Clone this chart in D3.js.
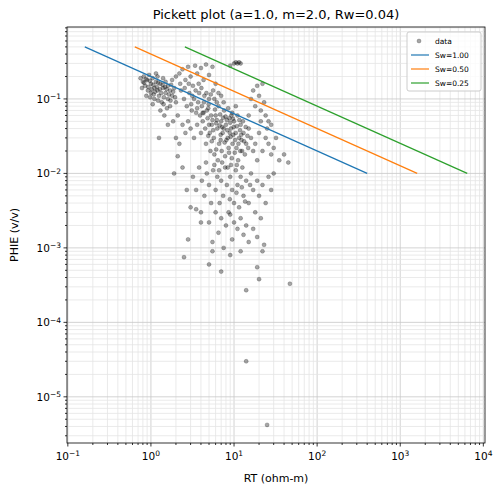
<!DOCTYPE html>
<html><head><meta charset="utf-8">
<script src="https://cdn.jsdelivr.net/npm/d3@7"></script>
<style>body{margin:0;background:#fff}text{font-family:"DejaVu Sans",sans-serif}</style>
</head><body>
<script>
var margin = {top: 27, right: 17, bottom: 52, left: 67};
var width = 502 - margin.left - margin.right;
var height = 495 - margin.top - margin.bottom;

var points = [
[0.75,0.19],[0.8,0.17],[0.82,0.2],[0.85,0.15],[0.9,0.18],[0.92,0.13],[0.95,0.21],[1.0,0.16],[1.0,0.12],[1.05,0.19],[1.1,0.14],[1.1,0.1],[1.15,0.17],[1.2,0.2],[1.2,0.13],[1.25,0.11],[1.3,0.16],[1.35,0.09],[1.4,0.14],[1.4,0.19],[1.5,0.12],[1.5,0.17],[1.6,0.1],[1.6,0.15],[1.7,0.08],[1.7,0.13],[1.8,0.18],[1.8,0.11],[1.9,0.14],[2.0,0.09],[2.0,0.2],[0.88,0.11],[1.05,0.085],[1.3,0.07],[0.78,0.14],[1.15,0.22],[1.45,0.06],[1.6,0.045],[1.25,0.03],[1.85,0.05],
[0.83,0.165],[0.87,0.185],[0.93,0.145],[0.97,0.175],[1.02,0.135],[1.07,0.155],[1.12,0.125],[1.18,0.145],[1.22,0.165],[1.28,0.135],[1.33,0.12],[1.38,0.155],[1.43,0.105],[1.48,0.145],[1.55,0.135],[1.65,0.115],[1.75,0.155],[1.85,0.125],[1.95,0.105],[0.98,0.105],[1.08,0.115],[1.22,0.095],[1.42,0.085],[1.56,0.075],[1.72,0.095],
[2.2,0.22],[2.4,0.25],[2.6,0.18],[2.8,0.27],[3.0,0.2],[3.2,0.15],[3.4,0.28],[3.6,0.22],[3.8,0.12],[4.0,0.26],[4.3,0.18],[4.6,0.29],[5.0,0.21],[5.5,0.27],[6.0,0.16],[2.3,0.13],[2.5,0.1],[2.7,0.08],[2.9,0.12],[3.1,0.07],[3.3,0.1],[3.5,0.065],[3.7,0.09],[3.9,0.06],[4.1,0.08],[4.4,0.11],[4.7,0.07],[5.0,0.1],[5.3,0.06],[5.6,0.13],[6.2,0.09],[2.1,0.06],[2.4,0.045],[2.6,0.035],[2.2,0.025],[2.8,0.05],[3.0,0.04],[3.3,0.03],[2.1,0.017],[2.4,0.012],
[2.25,0.16],[2.55,0.14],[2.85,0.16],[3.15,0.11],[3.45,0.13],[3.75,0.16],[4.05,0.14],[4.35,0.09],[4.65,0.12],[4.95,0.085],[5.25,0.115],[5.8,0.1],[6.5,0.12],[7.0,0.11],[3.05,0.085],[3.6,0.075],[4.2,0.065],
[4.2,0.05],[4.5,0.04],[4.8,0.055],[5.1,0.035],[5.4,0.045],[5.7,0.03],[6.0,0.06],[6.3,0.04],[6.6,0.025],[7.0,0.05],[7.3,0.035],[7.6,0.07],[8.0,0.045],[8.4,0.03],[8.8,0.055],[9.2,0.04],[9.6,0.025],[10,0.05],[10.5,0.035],[11,0.06],[11.5,0.03],[12,0.045],[12.5,0.02],[13,0.035],[14,0.025],[15,0.04],[6.5,0.08],[7.5,0.09],[8.5,0.075],[9.5,0.065],[10.5,0.08],[4.6,0.025],[5.2,0.02],[5.8,0.018],[6.4,0.015],[7.1,0.02],[7.8,0.017],[8.6,0.022],[9.4,0.016],[10.2,0.019],[11.2,0.015],[12.3,0.028],[13.5,0.018],[14.8,0.022],[16,0.03],[17,0.02],[18,0.025],[19,0.015],[20,0.035],[22,0.02],[24,0.03],[26,0.025],[28,0.018],[30,0.022],[35,0.015],[40,0.018],[45,0.014],[32,0.03],[25,0.04],[21,0.05],
[4.3,0.065],[4.9,0.075],[5.5,0.052],[6.1,0.047],[6.8,0.062],[7.2,0.042],[7.9,0.058],[8.3,0.038],[9.0,0.048],[9.8,0.033],[10.8,0.043],[11.8,0.038],[12.8,0.05],[3.6,0.045],[4.0,0.035],[5.9,0.072],[6.9,0.033],[8.1,0.028],[9.3,0.06],[11.3,0.025],
[5.0,0.045],[5.6,0.038],[6.2,0.052],[6.7,0.044],[7.4,0.056],[8.2,0.052],[8.9,0.035],[9.9,0.042],[10.3,0.028],[11.6,0.052],[12.2,0.033],[13.2,0.027],[13.8,0.042],[14.5,0.032],[7.7,0.026],[8.7,0.019],[9.1,0.031],[10.7,0.022],[11.9,0.02],[6.9,0.028],[5.4,0.027],[4.9,0.032],[6.1,0.021],[7.5,0.04],[9.7,0.054],
[16,0.1],[17,0.13],[18,0.08],[19,0.15],[20,0.11],[21,0.07],[22,0.16],[23,0.09],[24,0.06],[15,0.06],[26,0.05],[28,0.045],
[10,0.3],[10.5,0.31],[11,0.3],[11.5,0.31],[12,0.3],[9,0.28],
[3.2,0.009],[3.5,0.006],[3.8,0.012],[4.1,0.008],[4.4,0.005],[4.7,0.01],[5,0.007],[5.3,0.004],[5.6,0.011],[6,0.006],[6.3,0.009],[6.7,0.004],[7,0.008],[7.4,0.005],[7.8,0.012],[8.2,0.007],[8.6,0.003],[9,0.009],[9.5,0.006],[10,0.004],[10.5,0.011],[11,0.007],[11.5,0.0035],[12,0.009],[13,0.005],[14,0.008],[15,0.004],[16,0.01],[17,0.006],[18,0.003],[19,0.008],[20,0.005],[22,0.007],[24,0.004],[26,0.009],[28,0.006],[30,0.01],[6,0.003],[7,0.0025],[8,0.002],[9,0.0028],[10,0.0022],[11,0.0018],[12,0.0025],[13,0.0015],[14,0.002],[15,0.0012],[17,0.0018],[19,0.0014],[21,0.0025],[23,0.0011],[4,0.003],[3.5,0.0033],[5,0.0022],[2.8,0.0013],[5.5,0.0012],[6.5,0.0016],[7.5,0.001],[9.5,0.0013],
[5.8,0.013],[6.6,0.011],[7.2,0.014],[8.4,0.012],[9.2,0.013],[10.8,0.013],[12.6,0.012],[4.6,0.014],[8.9,0.0045],[10.7,0.0055],[12.4,0.0065],[13.6,0.0042],[15.6,0.007],
[4,0.0022],[2.5,0.00075],[5,0.0006],[5.5,0.0009],[7,0.00048],[9,0.0008],[12,0.0009],[14,0.00027],[19,0.00055],[20,0.00038],[22,0.0009],[47,0.00033],[14,0.00003],[25,0.0000042],[1.9,0.01],[2.0,0.03],[3.0,0.0035],[2.7,0.006]
];

var swLabels = ['Sw=1.00', 'Sw=0.50', 'Sw=0.25'];
var swColors = ['#1f77b4', '#ff7f0e', '#2ca02c'];
var swRT = [[0.16, 400], [0.64, 1600], [2.56, 6400]];
var swPhi = [0.5, 0.01];

var x = d3.scaleLog().domain([Math.pow(10, -1.01), Math.pow(10, 4.02)]).range([0, width]);
var y = d3.scaleLog().domain([Math.pow(10, -5.62), Math.pow(10, -0.034)]).range([height, 0]);

var svg = d3.select('body').append('svg')
	.attr('width', 502).attr('height', 495)
	.append('g')
		.attr('transform', 'translate(' + margin.left + ',' + margin.top + ')');

function isMajor(v) { return Math.abs(Math.log10(v) - Math.round(Math.log10(v))) < 1e-9; }

var xt = x.ticks().filter(function(v) { return v >= x.domain()[0] && v <= x.domain()[1]; });
var yt = y.ticks().filter(function(v) { return v >= y.domain()[0] && v <= y.domain()[1]; });

// grid
svg.selectAll('.gx').data(xt).enter().append('line')
	.attr('x1', function(d) { return x(d); }).attr('x2', function(d) { return x(d); })
	.attr('y1', 0).attr('y2', height)
	.attr('stroke', function(d) { return isMajor(d) ? '#c8c8c8' : '#e4e4e4'; }).attr('stroke-width', 0.8);
svg.selectAll('.gy').data(yt).enter().append('line')
	.attr('y1', function(d) { return y(d); }).attr('y2', function(d) { return y(d); })
	.attr('x1', 0).attr('x2', width)
	.attr('stroke', function(d) { return isMajor(d) ? '#c8c8c8' : '#e4e4e4'; }).attr('stroke-width', 0.8);

// data
svg.selectAll('.pt').data(points).enter().append('circle')
	.attr('cx', function(d) { return x(d[0]); })
	.attr('cy', function(d) { return y(d[1]); })
	.attr('r', 2)
	.attr('fill', 'black').attr('fill-opacity', 0.35)
	.attr('stroke', 'black').attr('stroke-opacity', 0.35).attr('stroke-width', 0.6);

var line = d3.line()
	.x(function(d) { return x(d[0]); })
	.y(function(d) { return y(d[1]); });
swRT.forEach(function(r, i) {
	svg.append('path')
		.datum([[r[0], swPhi[0]], [r[1], swPhi[1]]])
		.attr('fill', 'none').attr('stroke', swColors[i]).attr('stroke-width', 1.2)
		.attr('d', line);
});

// axes
function sup(sel, d) {
	var e = Math.round(Math.log10(d));
	sel.text('10');
	sel.append('tspan').attr('dy', '-0.5em').attr('font-size', '7.5px').text(e < 0 ? '\u2212' + (-e) : e);
}
var gx = svg.append('g').attr('transform', 'translate(0,' + height + ')');
xt.forEach(function(d) {
	var m = isMajor(d);
	gx.append('line').attr('x1', x(d)).attr('x2', x(d)).attr('y1', 0).attr('y2', m ? 3.5 : 2).attr('stroke', '#000').attr('stroke-width', 0.8);
	if (m) sup(gx.append('text').attr('x', x(d)).attr('y', 17).attr('text-anchor', 'middle').attr('font-size', '10.5px'), d);
});
var gy = svg.append('g');
yt.forEach(function(d) {
	var m = isMajor(d);
	gy.append('line').attr('y1', y(d)).attr('y2', y(d)).attr('x1', 0).attr('x2', m ? -3.5 : -2).attr('stroke', '#000').attr('stroke-width', 0.8);
	if (m) sup(gy.append('text').attr('x', -6).attr('y', y(d) + 4).attr('text-anchor', 'end').attr('font-size', '10.5px'), d);
});
svg.append('rect').attr('width', width).attr('height', height).attr('fill', 'none').attr('stroke', '#000').attr('stroke-width', 0.8);

svg.append('text').attr('x', width / 2).attr('y', -8).attr('text-anchor', 'middle').attr('font-size', '13px')
	.text('Pickett plot (a=1.0, m=2.0, Rw=0.04)');
svg.append('text').attr('x', width / 2).attr('y', height + 39).attr('text-anchor', 'middle').attr('font-size', '11px').text('RT (ohm-m)');
svg.append('text').attr('transform', 'rotate(-90)').attr('x', -height / 2).attr('y', -49).attr('text-anchor', 'middle').attr('font-size', '11px').text('PHIE (v/v)');

// legend
var lg = svg.append('g').attr('transform', 'translate(' + (width - 78) + ',5)');
lg.append('rect').attr('width', 74).attr('height', 59).attr('rx', 2).attr('fill', 'white').attr('fill-opacity', 0.8).attr('stroke', '#ccc');
lg.append('circle').attr('cx', 12).attr('cy', 9).attr('r', 2).attr('fill', 'black').attr('fill-opacity', 0.35)
	.attr('stroke', 'black').attr('stroke-opacity', 0.35).attr('stroke-width', 0.6);
lg.append('text').attr('x', 28).attr('y', 11.5).attr('font-size', '7.5px').text('data');
swLabels.forEach(function(s, i) {
	var yy = 23 + i * 14;
	lg.append('line').attr('x1', 4).attr('x2', 22).attr('y1', yy).attr('y2', yy).attr('stroke', swColors[i]).attr('stroke-width', 1.2);
	lg.append('text').attr('x', 28).attr('y', yy + 2.5).attr('font-size', '7.5px').text(s);
});
</script>
</body></html>
